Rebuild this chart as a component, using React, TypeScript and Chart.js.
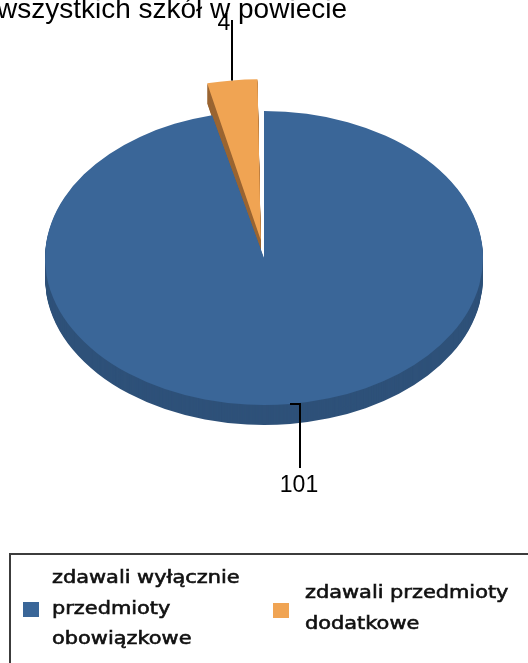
import React, { useEffect, useRef } from 'react';
import { Chart, registerables } from 'chart.js';

Chart.register(...registerables);

// ---- data ----
const categories = ['zdawali wyłącznie przedmioty obowiązkowe', 'zdawali przedmioty dodatkowe'];
const legendLines = [
  ['zdawali wyłącznie', 'przedmioty', 'obowiązkowe'],
  ['zdawali przedmioty', 'dodatkowe'],
];
const values = [101, 4];
const explode = [0, 108];
const topColors = ['#3A6698', '#F0A453'];
const sideColors = ['#2E5179', '#9A6532'];
const titleText = 'wszystkich szkół w powiecie';

const RATIO = 0.671;
const DEPTH = 20;

function squash(ctx: CanvasRenderingContext2D, cx: number, cy: number) {
  ctx.translate(cx, cy);
  ctx.scale(1, RATIO);
  ctx.translate(-cx, -cy);
}

const pie3d = {
  id: 'pie3d',
  beforeDatasetsDraw(chart: any) {
    const ctx: CanvasRenderingContext2D = chart.ctx;
    const arcs: any[] = chart.getDatasetMeta(0).data;
    const order = arcs
      .map((arc, i) => ({ i, s: Math.sin((arc.startAngle + arc.endAngle) / 2) }))
      .sort((a, b) => a.s - b.s)
      .map((o) => o.i);
    for (const i of order) {
      const arc = arcs[i];
      const cx = arc.x;
      const cy = arc.y;
      const side = Object.create(arc);
      side.options = { ...arc.options, backgroundColor: sideColors[i] };
      for (let d = DEPTH; d >= 1; d--) {
        ctx.save();
        ctx.translate(0, d);
        squash(ctx, cx, cy);
        arc.draw.call(side, ctx);
        ctx.restore();
      }
      ctx.save();
      squash(ctx, cx, cy);
      arc.draw(ctx);
      ctx.restore();
    }
    return false;
  },
  afterDraw(chart: any) {
    const ctx: CanvasRenderingContext2D = chart.ctx;
    const arcs: any[] = chart.getDatasetMeta(0).data;

    // title (partially cut at the top-left)
    ctx.save();
    ctx.fillStyle = '#000';
    ctx.font = '28px "Liberation Sans", Arial, sans-serif';
    ctx.textAlign = 'right';
    ctx.textBaseline = 'alphabetic';
    ctx.fillText(titleText, 347, 18);
    ctx.restore();

    // data labels with leader lines
    ctx.save();
    ctx.strokeStyle = '#000';
    ctx.lineWidth = 2;
    ctx.fillStyle = '#000';
    ctx.font = '23px "Liberation Sans", Arial, sans-serif';
    ctx.textAlign = 'center';
    arcs.forEach((arc, i) => {
      const a = (arc.startAngle + arc.endAngle) / 2;
      const off = (arc.options.offset || 0) / 4;
      const circ = arc.endAngle - arc.startAngle;
      const R = arc.outerRadius + off * (1 - Math.sin(Math.min(Math.PI, circ))) + off;
      const ax = Math.round(arc.x + Math.cos(a) * R);
      const ay = arc.y + Math.sin(a) * R * RATIO;
      if (Math.sin(a) < 0) {
        ctx.beginPath();
        ctx.moveTo(ax, ay);
        ctx.lineTo(ax, 20);
        ctx.stroke();
        ctx.fillText(String(values[i]), ax - 8, 30);
      } else {
        const bx = ax + 10;
        ctx.beginPath();
        ctx.moveTo(ax, ay);
        ctx.lineTo(bx, ay);
        ctx.lineTo(bx, 468);
        ctx.stroke();
        ctx.fillText(String(values[i]), bx - 1, 492);
      }
    });
    ctx.restore();

    // legend
    ctx.save();
    ctx.lineWidth = 2;
    ctx.strokeStyle = '#3c3c3c';
    ctx.strokeRect(10, 554, 640, 200);
    ctx.font = '18px "DejaVu Sans", sans-serif';
    ctx.textAlign = 'left';
    const SX = 1.16;
    const items = [
      { box: [23, 602], tx: 52, base: 583 },
      { box: [273, 603], tx: 305, base: 598 },
    ];
    items.forEach((it, i) => {
      ctx.fillStyle = topColors[i];
      ctx.fillRect(it.box[0], it.box[1], 16, 15);
      ctx.fillStyle = '#111';
      ctx.strokeStyle = '#111';
      ctx.lineWidth = 0.6;
      legendLines[i].forEach((line, k) => {
        ctx.save();
        ctx.translate(it.tx, it.base + k * 30.5);
        ctx.scale(SX, 1);
        ctx.fillText(line, 0, 0);
        ctx.strokeText(line, 0, 0);
        ctx.restore();
      });
    });
    ctx.restore();
  },
};

export default function App() {
  const ref = useRef<HTMLCanvasElement | null>(null);
  useEffect(() => {
    if (!ref.current) return;
    const chart = new Chart(ref.current, {
      type: 'pie',
      data: {
        labels: categories,
        datasets: [
          {
            data: values,
            backgroundColor: topColors,
            borderWidth: 0,
            offset: explode,
            radius: 219,
            clip: false,
          } as any,
        ],
      },
      options: {
        responsive: false,
        animation: false,
        devicePixelRatio: 1,
        layout: { padding: { top: 0, bottom: 147, left: 0, right: 0 } },
        plugins: {
          legend: { display: false },
          tooltip: { enabled: false },
          title: { display: false },
        },
      } as any,
      plugins: [pie3d],
    });
    return () => chart.destroy();
  }, []);
  return (
    <canvas
      ref={ref}
      width={528}
      height={663}
      style={{ position: 'fixed', left: 0, top: 0, width: 528, height: 663 }}
    />
  );
}
